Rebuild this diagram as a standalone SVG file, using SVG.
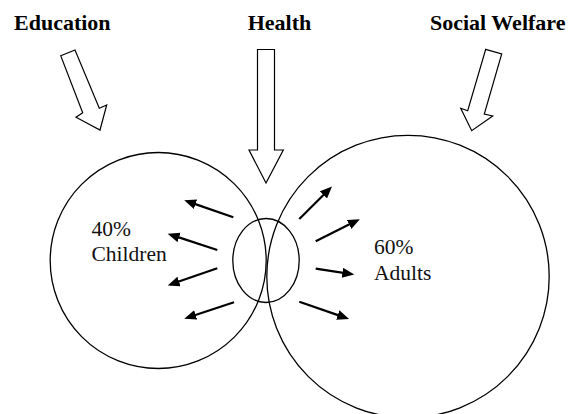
<svg xmlns="http://www.w3.org/2000/svg" width="577" height="414" viewBox="0 0 577 414">
  <style>
    .outline { fill: none; stroke: #000; stroke-width: 1.3; }
    .block { fill: #fff; stroke: #000; stroke-width: 1.2; stroke-linejoin: miter; }
    .head { font-family: 'Liberation Serif', 'Times New Roman', serif; font-size: 22px; font-weight: bold; fill: #000; }
    .label { font-family: 'Liberation Serif', 'Times New Roman', serif; font-size: 21.5px; fill: #111; }
    .ray { stroke: #000; stroke-width: 2.2; marker-end: url(#tip); }
  </style>
  <defs>
    <marker id="tip" markerUnits="userSpaceOnUse" markerWidth="14" markerHeight="12" refX="1" refY="5" orient="auto">
      <path d="M0,0 L12,5 L0,10 z" fill="#000"/>
    </marker>
  </defs>
  <rect width="577" height="414" fill="#fff"/>

  <!-- sector headings with their hollow arrows -->
  <g id="education">
    <text class="head" x="14" y="29.5">Education</text>
    <polygon class="block" points="60.7,55.7 75,50 99.3,108.3 106.7,105 100,130 76,117.3 82.7,112.7"/>
  </g>
  <g id="health">
    <text class="head" x="247.7" y="29.5">Health</text>
    <polygon class="block" points="257.5,49.5 274.5,49.5 274.5,150 283.3,150 266,183 249,150 257.5,150"/>
  </g>
  <g id="social-welfare">
    <text class="head" x="430" y="29.5">Social Welfare</text>
    <polygon class="block" points="485.7,49.3 501.7,54 484.3,114 492.7,116 471.7,130.7 460.7,108.3 467.7,110.7"/>
  </g>

  <!-- population groups -->
  <g id="children">
    <circle class="outline" cx="158.2" cy="260.5" r="108"/>
    <text class="label" x="91.5" y="235.7">40%</text>
    <text class="label" x="91.5" y="260.7">Children</text>
  </g>
  <g id="adults">
    <circle class="outline" cx="408" cy="276.5" r="141.2"/>
    <text class="label" x="374" y="254">60%</text>
    <text class="label" x="374" y="280">Adults</text>
  </g>
  <g id="overlap">
    <ellipse class="outline" cx="266" cy="260.5" rx="33.2" ry="42"/>
  </g>

  <!-- rays spreading out from the overlap -->
  <g id="connectors">
    <line class="ray" x1="233.3" y1="217.3" x2="194.6" y2="203.9"/>
    <line class="ray" x1="217.3" y1="250" x2="178.1" y2="237.1"/>
    <line class="ray" x1="217.3" y1="268.3" x2="178.1" y2="281.8"/>
    <line class="ray" x1="234" y1="302.3" x2="194.7" y2="315.2"/>
    <line class="ray" x1="299.3" y1="219" x2="324.2" y2="194.2"/>
    <line class="ray" x1="315.7" y1="241.3" x2="350" y2="224.1"/>
    <line class="ray" x1="315.7" y1="268.7" x2="343.4" y2="272.9"/>
    <line class="ray" x1="299.3" y1="301.7" x2="338.7" y2="315.4"/>
  </g>
</svg>
